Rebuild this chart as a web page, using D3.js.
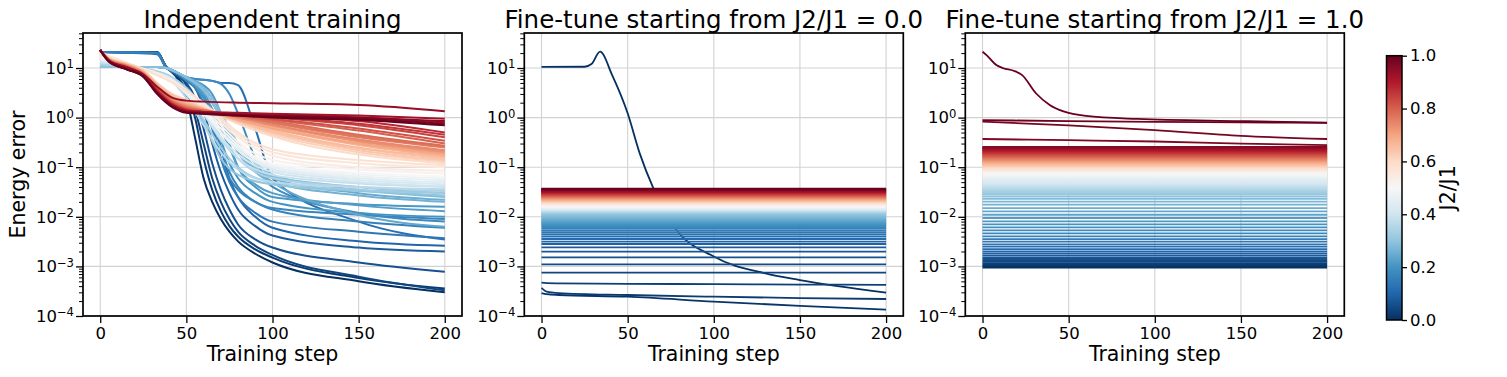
<!DOCTYPE html>
<html>
<head>
<meta charset="utf-8">
<script src="https://cdn.jsdelivr.net/npm/d3@7"></script>
<style>
  body { margin: 0; background: #fff; }
  svg text { font-family: "DejaVu Sans", sans-serif; fill: #000; }
</style>
</head>
<body>
<div id="chart"></div>
<script>

// ---------------- data ----------------

var titles = ["Independent training", "Fine-tune starting from J2/J1 = 0.0", "Fine-tune starting from J2/J1 = 1.0"];
var xTicks = [0, 50, 100, 150, 200];
var cbTicks = [0, 0.2, 0.4, 0.6, 0.8, 1.0];

// panel 1, blue curves (J2/J1 0 .. 0.29)
var indepBlueRatio = [0.00, 0.02, 0.04, 0.06, 0.08, 0.10, 0.12, 0.14, 0.16, 0.17, 0.18, 0.20,
                      0.21, 0.22, 0.24, 0.25, 0.26, 0.28, 0.29];
var indepBlueSteps = [0, 33, 38, 45, 50, 55, 60, 65, 70, 75, 80, 90, 100, 150, 200];
var indepBlueErrors = [
  [21, 21, 11, 6, 2.5, 0.4, 0.06, 0.02, 0.009, 0.005, 0.0032, 0.0018, 0.0012, 0.0005, 0.0003],
  [21, 21, 11, 6.5, 3.5, 1.0, 0.15, 0.035, 0.013, 0.0065, 0.004, 0.0022, 0.0015, 0.00058, 0.00036],
  [21, 20, 10.5, 7, 4.5, 1.5, 0.3, 0.06, 0.02, 0.009, 0.005, 0.0026, 0.0017, 0.00062, 0.00033],
  [21, 20.5, 11, 7, 5, 2.5, 0.6, 0.12, 0.035, 0.014, 0.007, 0.0035, 0.0024, 0.0012, 0.00078],
  [21, 20, 11, 7, 5.5, 4, 1.5, 0.3, 0.08, 0.03, 0.014, 0.0065, 0.0042, 0.0024, 0.002],
  [21, 20, 11, 7.5, 6, 5, 3.5, 1.2, 0.25, 0.06, 0.025, 0.01, 0.006, 0.0032, 0.0026],
  [21, 19, 10.5, 7.5, 6.5, 6, 5.8, 5.5, 5, 5, 4.5, 0.6, 0.06, 0.008, 0.0035],
  [21, 20.5, 10.5, 8, 6, 5, 3, 0.8, 0.15, 0.05, 0.025, 0.012, 0.008, 0.005, 0.0037],
  [21, 20, 11, 7.5, 5.5, 4, 2, 0.6, 0.15, 0.06, 0.035, 0.02, 0.014, 0.008, 0.006],
  [10.5, 10.5, 10, 8, 6, 4.5, 2.5, 0.9, 0.25, 0.08, 0.04, 0.02, 0.015, 0.011, 0.009],
  [10.5, 10.5, 10, 8, 6.5, 6, 5.8, 5.5, 4.8, 3, 1.2, 0.15, 0.04, 0.012, 0.008],
  [10.5, 10.5, 10, 8, 6, 4.5, 2.5, 1, 0.35, 0.12, 0.06, 0.03, 0.02, 0.012, 0.01],
  [10.5, 10.5, 10, 8, 6.5, 5.5, 4.5, 3, 1.2, 0.3, 0.1, 0.04, 0.025, 0.018, 0.016],
  [10.5, 10.5, 10, 8, 6, 4.5, 3, 1.5, 0.6, 0.25, 0.1, 0.045, 0.03, 0.017, 0.013],
  [10.5, 10.5, 10, 8, 6.5, 5, 3.5, 2, 1, 0.4, 0.2, 0.09, 0.05, 0.011, 0.0063],
  [10.5, 10.5, 10, 8, 6.5, 5.5, 4, 2.5, 1.2, 0.5, 0.25, 0.1, 0.06, 0.03, 0.022],
  [10.5, 10.5, 10, 8, 6.5, 5, 3.5, 2, 1, 0.45, 0.2, 0.08, 0.05, 0.027, 0.02],
  [10.5, 10.5, 10, 8, 6.5, 5.2, 4, 2.5, 1.3, 0.6, 0.3, 0.12, 0.07, 0.035, 0.025],
  [10.5, 10.5, 10, 8, 6.5, 5, 3.5, 2, 1, 0.5, 0.25, 0.1, 0.065, 0.04, 0.03]
];

// panel 1, pale curves (J2/J1 0.30 .. 0.58)
var indepLightRatio = [0.30, 0.32, 0.34, 0.36, 0.38, 0.40, 0.42, 0.44, 0.46, 0.48, 0.50, 0.52, 0.54, 0.56, 0.58];
var indepLightSteps = [0, 10, 20, 30, 40, 50, 60, 70, 80, 100, 150, 200];
var indepLightErrors = [
  [11, 10.5, 10, 9, 7, 3.5, 0.8, 0.15, 0.07, 0.045, 0.033, 0.027],
  [16, 13, 10, 8.5, 6.5, 3, 0.9, 0.25, 0.1, 0.05, 0.035, 0.03],
  [12, 11, 10, 9, 7, 4, 1.5, 0.4, 0.15, 0.06, 0.04, 0.033],
  [17, 13, 10, 8.5, 6, 2.5, 0.7, 0.2, 0.09, 0.05, 0.04, 0.036],
  [13, 11.5, 10, 8.5, 6.5, 3.5, 1.2, 0.35, 0.15, 0.07, 0.047, 0.04],
  [18, 14, 10.5, 8.5, 6, 3, 1.2, 0.4, 0.18, 0.08, 0.05, 0.042],
  [14, 12, 10, 8.5, 6.5, 3.5, 1.5, 0.5, 0.22, 0.09, 0.055, 0.045],
  [19, 14, 10.5, 8.5, 6, 3, 1.3, 0.5, 0.25, 0.1, 0.06, 0.05],
  [15, 12.5, 10, 8.5, 6, 3.5, 1.4, 0.5, 0.22, 0.1, 0.065, 0.055],
  [20, 15, 11, 8.5, 6, 3.2, 1.3, 0.5, 0.25, 0.11, 0.072, 0.06],
  [16, 13, 10.5, 8.5, 6, 3.5, 1.5, 0.6, 0.28, 0.12, 0.078, 0.065],
  [20, 15, 11, 8, 5.5, 3.4, 1.6, 0.7, 0.32, 0.14, 0.09, 0.075],
  [17, 13.5, 10.5, 8.5, 6, 3.6, 1.8, 0.8, 0.4, 0.17, 0.1, 0.085],
  [21, 15, 11, 8, 5.5, 3.4, 1.9, 0.9, 0.45, 0.2, 0.12, 0.1],
  [18, 14, 10.5, 8, 5.5, 3.5, 2, 1.0, 0.5, 0.23, 0.14, 0.11]
];

// panel 1, red curves (J2/J1 0.60 .. 1.00)
var indepRedRatio = [0.60, 0.62, 0.64, 0.65, 0.66, 0.68, 0.69, 0.70, 0.72, 0.73, 0.74, 0.76, 0.77, 0.78,
                     0.80, 0.82, 0.84, 0.86, 0.88, 0.90, 0.92, 0.94, 0.96, 0.98, 1.00];
var indepRedSteps = [0, 5, 15, 25, 33, 42, 50, 60, 80, 100, 150, 200];
var indepRedErrors = [
  [21, 16, 12.5, 9, 5, 3, 2.3, 1.6, 0.75, 0.42, 0.18, 0.12],
  [21.5, 16, 12.5, 9, 5, 2.9, 2.2, 1.5, 0.8, 0.46, 0.2, 0.13],
  [22, 15.5, 12, 8.5, 4.8, 2.8, 2.1, 1.55, 0.85, 0.5, 0.22, 0.14],
  [22, 15.5, 12, 8.5, 4.7, 2.7, 2.0, 1.5, 0.85, 0.52, 0.24, 0.15],
  [22, 15.5, 12, 8.5, 4.6, 2.6, 2.0, 1.45, 0.9, 0.56, 0.25, 0.16],
  [22.5, 15, 11.5, 8.2, 4.5, 2.5, 1.9, 1.5, 0.95, 0.62, 0.28, 0.17],
  [22.5, 15, 11.5, 8.1, 4.4, 2.45, 1.85, 1.45, 0.95, 0.65, 0.3, 0.18],
  [22.5, 15, 11.5, 8, 4.3, 2.4, 1.8, 1.4, 0.9, 0.6, 0.3, 0.19],
  [23, 15, 11.5, 8, 4.2, 2.3, 1.75, 1.45, 1.0, 0.7, 0.33, 0.2],
  [23, 15, 11, 7.9, 4.15, 2.25, 1.7, 1.4, 1.0, 0.7, 0.34, 0.21],
  [23, 15, 11, 7.8, 4.1, 2.2, 1.7, 1.4, 1.0, 0.72, 0.36, 0.22],
  [23, 14.5, 11, 7.6, 4, 2.1, 1.6, 1.35, 1.05, 0.78, 0.4, 0.25],
  [23, 14.5, 11, 7.5, 3.95, 2.1, 1.6, 1.35, 1.05, 0.8, 0.42, 0.26],
  [23, 14.5, 11, 7.5, 3.9, 2.1, 1.6, 1.4, 1.1, 0.85, 0.45, 0.27],
  [23, 14.5, 10.5, 7.4, 3.8, 2.0, 1.5, 1.35, 1.1, 0.9, 0.55, 0.3],
  [23, 14.5, 10.5, 7.3, 3.7, 1.95, 1.5, 1.3, 1.15, 0.95, 0.6, 0.34],
  [23, 14, 10.5, 7.2, 3.6, 1.9, 1.45, 1.3, 1.15, 1.0, 0.7, 0.4],
  [23, 14, 10, 7, 3.5, 1.85, 1.45, 1.3, 1.2, 1.05, 0.75, 0.45],
  [23, 14, 10, 7, 3.5, 1.8, 1.4, 1.3, 1.2, 1.1, 0.85, 0.5],
  [23, 14, 10, 6.9, 3.4, 1.8, 1.4, 1.3, 1.2, 1.15, 1.0, 0.8],
  [23, 14, 10, 6.9, 3.3, 1.75, 1.35, 1.3, 1.25, 1.2, 1.1, 0.95],
  [23, 14, 10.5, 7.5, 4.2, 2.5, 2.2, 2.1, 2.0, 1.95, 1.8, 1.35],
  [23, 13.5, 9.5, 6.8, 3.2, 1.7, 1.3, 1.25, 1.15, 1.1, 1.0, 0.85],
  [23, 13.5, 9.5, 6.7, 3.1, 1.65, 1.3, 1.2, 1.1, 1.05, 0.95, 0.75],
  [23, 13.5, 9.5, 6.7, 3.0, 1.6, 1.25, 1.2, 1.1, 1.0, 0.9, 0.7]
];

// panels 2 and 3: one line per J2/J1 = 0.00, 0.01, ..., 1.00
// flat lines are stored by their level; null = drawn from the curve arrays below
var fineSteps = [0, 200];

var fine0Levels = [
  null, null, null, null,
  7.5e-4, 1.10e-3, 1.52e-3, 1.98e-3, 2.43e-3, 2.83e-3, 3.15e-3, 3.57e-3, 3.97e-3, 4.4e-3,
  4.8e-3, 5.2e-3, 5.7e-3, 6.1e-3, 6.5e-3, 6.8e-3, 7.1e-3,
  7.5e-3, 7.8e-3, 8.2e-3, 8.6e-3, 9.0e-3, 9.4e-3, 9.8e-3, 1.03e-2, 1.08e-2, 1.13e-2,
  1.19e-2, 1.21e-2, 1.23e-2, 1.25e-2, 1.27e-2, 1.29e-2, 1.31e-2, 1.34e-2, 1.36e-2, 1.38e-2,
  1.40e-2, 1.43e-2, 1.45e-2, 1.48e-2, 1.50e-2, 1.53e-2, 1.55e-2, 1.58e-2, 1.61e-2, 1.64e-2,
  0.0168, 0.0171, 0.0174, 0.0176, 0.0179, 0.0182, 0.0185, 0.0188, 0.0191, 0.0194,
  0.0197, 0.0200, 0.0204, 0.0207, 0.0210, 0.0214, 0.0217, 0.0221, 0.0224, 0.0228,
  0.0232, 0.0235, 0.0239, 0.0243, 0.0247, 0.0251, 0.0255, 0.0259, 0.0264, 0.0268,
  0.0272, 0.0277, 0.0281, 0.0286, 0.0291, 0.0295, 0.0300, 0.0305, 0.0310, 0.0315,
  0.0320, 0.0325, 0.0331, 0.0336, 0.0342, 0.0347, 0.0353, 0.0359, 0.0364, 0.0370
];
var fine0CurveRatio = [0.00];
var fine0CurveSteps = [0, 25, 29, 34, 41, 50, 57, 65, 77, 100, 130, 150, 200];
var fine0CurveErrors = [
  [10.5, 10.6, 12, 21.3, 7.2, 1.22, 0.19, 0.037, 0.0063, 0.00158, 0.00072, 0.00053, 0.000295]
];
var fine0DriftRatio = [0.01, 0.02, 0.03];
var fine0DriftSteps = [0, 3, 10, 50, 100, 150, 200];
var fine0DriftErrors = [
  [2.9e-4, 2.75e-4, 2.65e-4, 2.45e-4, 1.95e-4, 1.6e-4, 1.35e-4],
  [3.7e-4, 3.1e-4, 2.9e-4, 2.65e-4, 2.45e-4, 2.3e-4, 2.2e-4],
  [4.7e-4, 4.6e-4, 4.55e-4, 4.45e-4, 4.4e-4, 4.3e-4, 4.25e-4]
];

var fine1Levels = [
  9.5e-4, 1.02e-3, 1.08e-3, 1.15e-3, 1.23e-3, 1.31e-3, 1.41e-3, 1.52e-3, 1.67e-3, 1.83e-3,
  2.01e-3, 2.24e-3, 2.50e-3, 2.79e-3, 3.16e-3, 3.56e-3, 4.04e-3, 4.65e-3, 5.33e-3, 6.14e-3,
  7.05e-3, 8.11e-3, 9.46e-3, 1.10e-2, 1.29e-2, 1.50e-2, 1.76e-2, 2.02e-2, 2.29e-2, 2.55e-2,
  2.79e-2,
  0.0293, 0.0308, 0.0324, 0.0340, 0.0357, 0.0375, 0.0394, 0.0414, 0.0436, 0.0457,
  0.0481, 0.0505, 0.0531, 0.0557, 0.0586, 0.0615, 0.0647, 0.0679, 0.0714, 0.0752,
  0.078, 0.080, 0.082, 0.084, 0.087, 0.089, 0.091, 0.094, 0.096, 0.099,
  0.101, 0.104, 0.107, 0.110, 0.113, 0.116, 0.119, 0.122, 0.125, 0.129,
  0.132, 0.136, 0.139, 0.143, 0.147, 0.151, 0.155, 0.159, 0.163, 0.168,
  0.172, 0.177, 0.182, 0.187, 0.192, 0.197, 0.202, 0.208, 0.213, 0.219,
  0.225, 0.231, 0.237, 0.244, 0.250, 0.257,
  null, null, null, null
];
var fine1DriftRatio = [0.97, 0.98, 0.99];
var fine1DriftSteps = [0, 50, 100, 150, 200];
var fine1DriftErrors = [
  [0.37, 0.35, 0.33, 0.30, 0.28],
  [0.83, 0.70, 0.56, 0.43, 0.37],
  [0.89, 0.85, 0.82, 0.80, 0.78]
];
var fine1CurveRatio = [1.00];
var fine1CurveSteps = [0, 2.5, 8, 12, 18, 23, 31, 39, 47, 60, 90, 150, 200];
var fine1CurveErrors = [
  [21.3, 18, 11.5, 9.9, 8.8, 7.2, 3.1, 1.8, 1.33, 1.08, 0.94, 0.85, 0.79]
];

// RdBu reversed, the 11 ColorBrewer anchors, linearly blended like matplotlib
var rdbuColors = ["#053061", "#2166ac", "#4393c3", "#92c5de", "#d1e5f0", "#f7f7f7",
                  "#fddbc7", "#f4a582", "#d6604d", "#b2182b", "#67001f"];

// ---------------- layout ----------------

var width = 1507, height = 377;
var plotTop = 33, plotBottom = 316, plotWidth = 379;
var panelLeft = [83, 524.3, 965.3];

var svg = d3.select("#chart")
  .append("svg")
    .attr("width", width)
    .attr("height", height);

var color = d3.scaleLinear()
  .domain(rdbuColors.map(function(c, i) { return i / (rdbuColors.length - 1); }))
  .range(rdbuColors)
  .interpolate(d3.interpolateRgb);

var y = d3.scaleLog().domain([1e-4, 50.8]).range([plotBottom, plotTop]);
var yMajor = [1e-4, 1e-3, 1e-2, 1e-1, 1, 10];
var yMinor = [];
[1e-4, 1e-3, 1e-2, 1e-1, 1, 10].forEach(function(p) {
  for (var m = 2; m <= 9; m++) if (p * m <= 50.8) yMinor.push(p * m);
});
var ratioGrid = d3.range(0, 101).map(function(i) { return i / 100; });

function styleAxis(ax, size) {
  ax.attr("font-family", null).attr("font-size", null);
  ax.select(".domain").remove();
  ax.selectAll(".tick line").attr("stroke", "#000").attr("stroke-width", 1.3);
  ax.selectAll(".tick text").attr("font-size", size).attr("fill", "#000");
}

function makePanel(k, lw) {
  var left = panelLeft[k];
  var x = d3.scaleLinear().domain([-10, 210]).range([left, left + plotWidth]);
  var g = svg.append("g");

  var grid = g.append("g");
  grid.selectAll(".gx").data(xTicks).enter().append("line")
    .attr("x1", x).attr("x2", x)
    .attr("y1", plotTop).attr("y2", plotBottom)
    .attr("stroke", "#d2d2d2").attr("stroke-width", 1.1);
  grid.selectAll(".gy").data(yMajor).enter().append("line")
    .attr("x1", left).attr("x2", left + plotWidth)
    .attr("y1", y).attr("y2", y)
    .attr("stroke", "#d2d2d2").attr("stroke-width", 1.1);

  var lines = g.append("g");

  g.append("rect")
    .attr("x", left).attr("y", plotTop)
    .attr("width", plotWidth).attr("height", plotBottom - plotTop)
    .attr("fill", "none").attr("stroke", "#000").attr("stroke-width", 1.7);

  var ax = g.append("g")
    .attr("transform", "translate(0," + plotBottom + ")")
    .call(d3.axisBottom(x).tickValues(xTicks).tickSize(7).tickPadding(4).tickSizeOuter(0));
  styleAxis(ax, 16.5);

  var ayMinor = g.append("g")
    .attr("transform", "translate(" + left + ",0)")
    .call(d3.axisLeft(y).tickValues(yMinor).tickSize(4).tickFormat("").tickSizeOuter(0));
  styleAxis(ayMinor, 16.5);
  ayMinor.selectAll(".tick line").attr("stroke-width", 1);

  var ay = g.append("g")
    .attr("transform", "translate(" + left + ",0)")
    .call(d3.axisLeft(y).tickValues(yMajor).tickSize(7).tickPadding(2).tickSizeOuter(0));
  styleAxis(ay, 16.5);
  ay.selectAll(".tick text").each(function(d) {
    var t = d3.select(this).text("");
    var e = Math.round(Math.log10(d));
    t.append("tspan").text("10");
    t.append("tspan").attr("dy", -5.6).attr("font-size", 11.6)
      .text(e < 0 ? "\u2212" + (-e) : String(e));
  });

  g.append("text")
    .attr("x", left + plotWidth / 2).attr("y", 28)
    .attr("text-anchor", "middle").attr("font-size", 24.5)
    .text(titles[k]);
  g.append("text")
    .attr("x", left + plotWidth / 2).attr("y", 361)
    .attr("text-anchor", "middle").attr("font-size", 20.5)
    .text("Training step");

  return { x: x, lines: lines, lw: lw };
}

function addCurve(p, ratio, steps, errors) {
  var pts = steps.map(function(s, i) { return [s, errors[i]]; });
  p.lines.append("path")
    .datum(pts)
    .attr("d", d3.line()
      .x(function(d) { return p.x(d[0]); })
      .y(function(d) { return y(d[1]); })
      .curve(d3.curveMonotoneX))
    .attr("fill", "none")
    .attr("stroke", color(ratio))
    .attr("stroke-width", p.lw);
}

// ---- panel 1 ----
var p1 = makePanel(0, 2);
indepBlueRatio.forEach(function(j, i) { addCurve(p1, j, indepBlueSteps, indepBlueErrors[i]); });
indepLightRatio.forEach(function(j, i) { addCurve(p1, j, indepLightSteps, indepLightErrors[i]); });
indepRedRatio.forEach(function(j, i) { addCurve(p1, j, indepRedSteps, indepRedErrors[i]); });

svg.append("text")
  .attr("transform", "translate(25," + ((plotTop + plotBottom) / 2) + ") rotate(-90)")
  .attr("text-anchor", "middle").attr("font-size", 20.5)
  .text("Energy error");

// ---- panels 2 and 3: draw every ratio in order so red ends on top ----
function drawFine(p, levels, specials) {
  ratioGrid.forEach(function(j, i) {
    if (levels[i] !== null) {
      addCurve(p, j, fineSteps, [levels[i], levels[i]]);
      return;
    }
    specials.forEach(function(s) {
      var idx = s.ratio.indexOf(j);
      if (idx >= 0) addCurve(p, j, s.steps, s.errors[idx]);
    });
  });
}

var p2 = makePanel(1, 1.8);
drawFine(p2, fine0Levels, [
  { ratio: fine0CurveRatio, steps: fine0CurveSteps, errors: fine0CurveErrors },
  { ratio: fine0DriftRatio, steps: fine0DriftSteps, errors: fine0DriftErrors }
]);

var p3 = makePanel(2, 1.8);
drawFine(p3, fine1Levels, [
  { ratio: fine1DriftRatio, steps: fine1DriftSteps, errors: fine1DriftErrors },
  { ratio: fine1CurveRatio, steps: fine1CurveSteps, errors: fine1CurveErrors }
]);

// ---- colorbar ----
var cbX = 1386.5, cbW = 15.5, cbTop = 55.7, cbBottom = 320;
var cb = d3.scaleLinear().domain([0, 1]).range([cbBottom, cbTop]);

var grad = svg.append("defs").append("linearGradient")
  .attr("id", "cbgrad")
  .attr("x1", 0).attr("y1", 1).attr("x2", 0).attr("y2", 0);
grad.selectAll("stop").data(d3.range(0, 1.0001, 0.02)).enter().append("stop")
  .attr("offset", function(d) { return d; })
  .attr("stop-color", color);

svg.append("rect")
  .attr("x", cbX).attr("y", cbTop)
  .attr("width", cbW).attr("height", cbBottom - cbTop)
  .attr("fill", "url(#cbgrad)")
  .attr("stroke", "#000").attr("stroke-width", 1.5);

var cax = svg.append("g")
  .attr("transform", "translate(" + (cbX + cbW) + ",0)")
  .call(d3.axisRight(cb).tickValues(cbTicks).tickFormat(d3.format(".1f"))
    .tickSize(5).tickPadding(3).tickSizeOuter(0));
styleAxis(cax, 16.5);

svg.append("text")
  .attr("transform", "translate(1455," + ((cbTop + cbBottom) / 2) + ") rotate(-90)")
  .attr("text-anchor", "middle").attr("font-size", 20.5)
  .text("J2/J1");

</script>
</body>
</html>
